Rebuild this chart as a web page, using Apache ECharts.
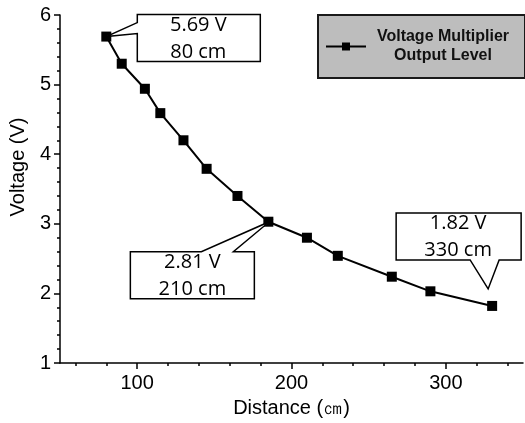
<!DOCTYPE html>
<html lang="en">
<head>
    <meta charset="UTF-8">
    <title>Voltage vs Distance</title>
    <script src="https://cdn.jsdelivr.net/npm/echarts@6/dist/echarts.min.js"></script>
    <style>
        body { margin: 0; background: #fff; }
        #main { width: 525px; height: 423px; }
    </style>
</head>
<body>
    <div id="main"></div>
    <script>
        // data
        var distance = [80, 90, 105, 115, 130, 145, 165, 185, 210, 230, 265, 290, 330];
        var voltage = [5.69, 5.30, 4.94, 4.59, 4.20, 3.79, 3.40, 3.03, 2.80, 2.54, 2.24, 2.03, 1.82];
        var xMajorTicks = [100, 200, 300];
        var xMinorTicks = [60, 80, 120, 140, 160, 180, 220, 240, 260, 280, 320, 340];
        var calloutIndex = [0, 7, 12];
        var calloutText = [['5.69 V', '80 cm'], ['2.81 V', '210 cm'], ['1.82 V', '330 cm']];

        // callout shapes, pixels relative to the pointer tip
        var calloutLayout = [
            { shift: [0, 0], pts: [[31, -22], [154, -22], [154, 25], [31, 25], [31, -3], [0, 0], [31, -14]], text: [92, 2] },
            { shift: [1, 0], pts: [[-139, 30], [-68, 30], [0, 0], [-36, 30], [-15, 30], [-15, 77], [-139, 77]], text: [-77, 54] },
            { shift: [-4, -17], pts: [[-92, -76], [33, -76], [33, -29], [11, -29], [0, 0], [-18, -29], [-92, -29]], text: [-30, -52] }
        ];

        var myChart = echarts.init(document.getElementById('main'));

        var axisFont = 'Liberation Sans';
        var pts = [];
        for (let i = 0; i < distance.length; i++) {
            pts.push([distance[i], voltage[i]]);
        }

        var option = {
            animation: false,
            grid: { left: 60, right: 2, top: 15, bottom: 60 },
            legend: {
                left: 318,
                top: 15,
                padding: [14, 10, 14, 7],
                backgroundColor: '#bdbdbd',
                borderColor: '#1a1a1a',
                borderWidth: 2,
                borderRadius: 0,
                itemWidth: 40,
                itemHeight: 10,
                itemGap: 0,
                formatter: function () {
                    return '{a|Voltage Multiplier}\n{a|Output Level}';
                },
                textStyle: {
                    rich: {
                        a: { width: 144, align: 'center', fontFamily: axisFont, fontWeight: 'bold', fontSize: 16, lineHeight: 19, color: '#111' }
                    }
                }
            },
            xAxis: [{
                type: 'value',
                min: 50,
                max: 350,
                name: 'Distance (㎝)',
                nameLocation: 'middle',
                nameGap: 35,
                nameTextStyle: { fontFamily: axisFont, fontSize: 20, color: '#000' },
                splitLine: { show: false },
                axisLine: { lineStyle: { color: '#000', width: 1.5 } },
                axisTick: { show: true, length: 6, customValues: xMajorTicks, lineStyle: { color: '#000', width: 1.5 } },
                axisLabel: { customValues: xMajorTicks, margin: 10, fontFamily: axisFont, fontSize: 20, color: '#000' }
            }, {
                type: 'value',
                min: 50,
                max: 350,
                position: 'bottom',
                splitLine: { show: false },
                axisLine: { show: false },
                axisTick: { show: true, length: 3, customValues: xMinorTicks, lineStyle: { color: '#000', width: 1.5 } },
                axisLabel: { show: false }
            }],
            yAxis: {
                type: 'value',
                min: 1,
                max: 6,
                interval: 1,
                name: 'Voltage (V)',
                nameLocation: 'middle',
                nameGap: 31,
                nameTextStyle: { fontFamily: axisFont, fontSize: 20, color: '#000', padding: [0, 0, 0, 44] },
                splitLine: { show: false },
                axisLine: { show: true, lineStyle: { color: '#000', width: 1.5 } },
                axisTick: { show: true, length: 6, lineStyle: { color: '#000', width: 1.5 } },
                minorTick: { show: true, splitNumber: 5, length: 3, lineStyle: { color: '#000', width: 1.5 } },
                axisLabel: { margin: 9, fontFamily: axisFont, fontSize: 20, color: '#000' }
            },
            series: [{
                name: 'Voltage Multiplier Output Level',
                type: 'line',
                data: pts,
                symbol: 'rect',
                symbolSize: 10,
                itemStyle: { color: '#000' },
                lineStyle: { color: '#000', width: 2 }
            }]
        };

        myChart.setOption(option);

        // callouts anchored on the data points
        var graphics = [];
        for (let i = 0; i < calloutIndex.length; i++) {
            const p = myChart.convertToPixel({ seriesIndex: 0 }, pts[calloutIndex[i]]);
            const lay = calloutLayout[i];
            const tx = p[0] + lay.shift[0];
            const ty = p[1] + lay.shift[1];
            graphics.push({
                type: 'polygon',
                z: 10,
                shape: { points: lay.pts.map(function (q) { return [tx + q[0], ty + q[1]]; }) },
                style: { fill: '#fff', stroke: '#000', lineWidth: 1.5 }
            });
            graphics.push({
                type: 'text',
                z: 11,
                style: {
                    text: calloutText[i].join('\n'),
                    x: tx + lay.text[0],
                    y: ty + lay.text[1],
                    textAlign: 'center',
                    textVerticalAlign: 'middle',
                    font: '20px "Open Sans"',
                    lineHeight: 27,
                    fill: '#000'
                }
            });
        }
        myChart.setOption({ graphic: graphics });
    </script>
</body>
</html>
